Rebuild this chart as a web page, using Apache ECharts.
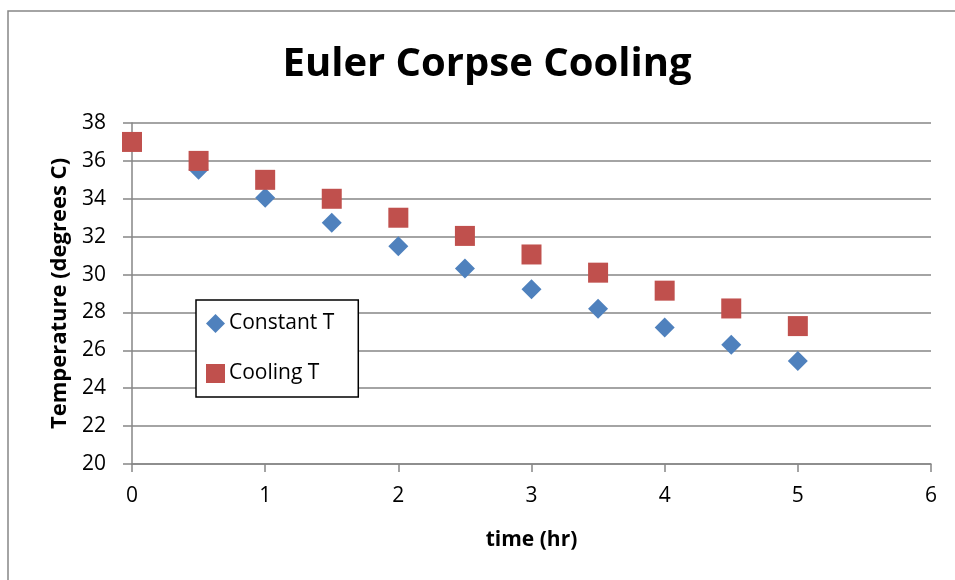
<!DOCTYPE html>
<html>
<head>
<meta charset="utf-8">
<script src="https://cdn.jsdelivr.net/npm/echarts@6/dist/echarts.min.js"></script>
<style>
  html, body { margin: 0; padding: 0; background: #fff; }
  #chart { width: 955px; height: 580px; }
</style>
</head>
<body>
<div id="chart"></div>
<script>
// Time steps (hours) and temperatures from the two Euler cooling models
const timeHr = [0, 0.5, 1, 1.5, 2, 2.5, 3, 3.5, 4, 4.5, 5];
const constantT = [37, 35.53, 34.06, 32.73, 31.5, 30.32, 29.22, 28.2, 27.21, 26.29, 25.44];
const coolingT = [37, 36, 35, 34, 33, 32.04, 31.06, 30.1, 29.15, 28.21, 27.28];
const seriesNames = ['Constant T', 'Cooling T'];

const FONT = '"Open Sans", "Liberation Sans", sans-serif';
const AXIS_GRAY = '#868686';

const chart = echarts.init(document.getElementById('chart'), null, { renderer: 'canvas' });

const pairs = (ys) => timeHr.map((t, i) => [t, ys[i]]);

chart.setOption({
  backgroundColor: '#fff',
  animation: false,
  title: {
    text: 'Euler Corpse Cooling',
    left: 482,
    textAlign: 'center',
    top: 40,
    textStyle: { fontFamily: FONT, fontWeight: 'bold', fontSize: 40, color: '#000' }
  },
  graphic: [{
    type: 'rect',
    shape: { x: 8, y: 11, width: 960, height: 590 },
    style: { fill: 'none', stroke: AXIS_GRAY, lineWidth: 1.5 },
    silent: true,
    z: -1
  }],
  grid: { left: 132, right: 24, top: 123, bottom: 116, containLabel: false },
  legend: {
    orient: 'vertical',
    left: 196,
    top: 300,
    backgroundColor: '#fff',
    borderColor: '#000',
    borderWidth: 1.5,
    borderRadius: 0,
    padding: [13, 24, 13, 10],
    itemGap: 29,
    itemWidth: 19,
    itemHeight: 19,
    textStyle: { fontFamily: FONT, fontSize: 21, color: '#000', padding: [0, 0, 0, -1] },
    data: seriesNames
  },
  xAxis: {
    type: 'value',
    min: 0, max: 6, interval: 1,
    name: 'time (hr)',
    nameLocation: 'middle',
    nameGap: 66,
    nameTextStyle: { fontFamily: FONT, fontWeight: 'bold', fontSize: 21, color: '#000' },
    axisLine: { show: true, onZero: false, lineStyle: { color: AXIS_GRAY, width: 1.5 } },
    axisTick: { show: true, length: 8, lineStyle: { color: AXIS_GRAY, width: 1.5 } },
    axisLabel: { fontFamily: FONT, fontSize: 21, color: '#000', margin: 22 },
    splitLine: { show: false }
  },
  yAxis: {
    type: 'value',
    min: 20, max: 38, interval: 2,
    name: 'Temperature (degrees C)',
    nameLocation: 'middle',
    nameGap: 60,
    nameTextStyle: { fontFamily: FONT, fontWeight: 'bold', fontSize: 22, color: '#000' },
    axisLine: { show: true, lineStyle: { color: AXIS_GRAY, width: 1.5 } },
    axisTick: { show: true, length: 9, lineStyle: { color: AXIS_GRAY, width: 1.5 } },
    axisLabel: { fontFamily: FONT, fontSize: 21, color: '#000', margin: 26 },
    splitLine: { show: true, lineStyle: { color: AXIS_GRAY, width: 1.5 } }
  },
  series: [
    {
      name: seriesNames[0],
      type: 'scatter',
      symbol: 'diamond',
      symbolSize: 20,
      itemStyle: { color: '#4F81BD', opacity: 1 },
      data: pairs(constantT),
      z: 2
    },
    {
      name: seriesNames[1],
      type: 'scatter',
      symbol: 'rect',
      symbolSize: 20,
      itemStyle: { color: '#C0504D', opacity: 1 },
      data: pairs(coolingT),
      z: 3
    }
  ]
});
</script>
</body>
</html>
